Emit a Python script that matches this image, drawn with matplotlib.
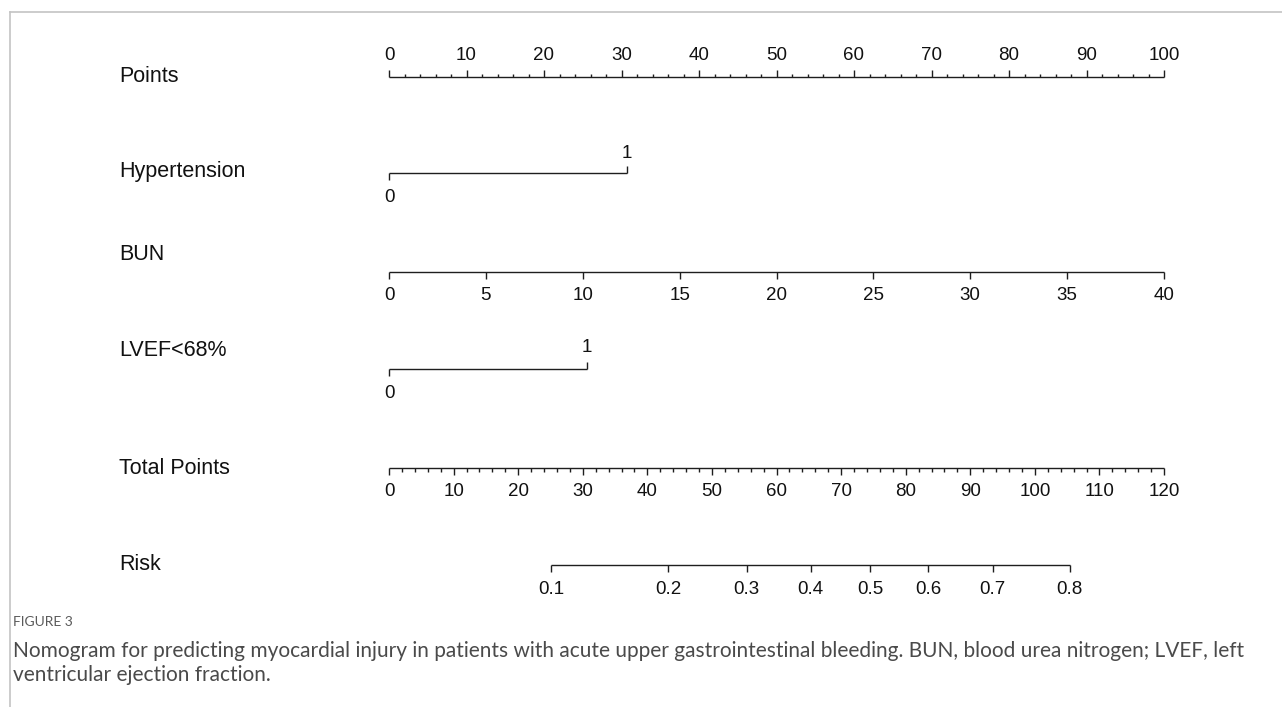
import matplotlib
matplotlib.use("Agg")
import matplotlib.pyplot as plt
from matplotlib.lines import Line2D

# ---------------- data ----------------
row_labels = ["Points", "Hypertension", "BUN", "LVEF<68%", "Total Points", "Risk"]

points_ticks = list(range(0, 101, 10))
points_minor = [v for v in range(0, 101, 2) if v % 10 != 0]

hyper_levels = ["0", "1"]
hyper_points = [0.0, 30.7]

bun_values = [0, 5, 10, 15, 20, 25, 30, 35, 40]
bun_max_points = 100.0          # BUN = 40 -> 100 points
bun_max_value = 40.0

lvef_levels = ["0", "1"]
lvef_points = [0.0, 25.5]

total_ticks = list(range(0, 121, 10))
total_minor = [v for v in range(0, 121, 2) if v % 10 != 0]
total_max = 120.0

risk_labels = ["0.1", "0.2", "0.3", "0.4", "0.5", "0.6", "0.7", "0.8"]
risk_total_points = [25.1, 43.2, 55.4, 65.3, 74.5, 83.5, 93.5, 105.4]

caption_head = "FIGURE 3"
caption_lines = [
    "Nomogram for predicting myocardial injury in patients with acute upper gastrointestinal bleeding. BUN, blood urea nitrogen; LVEF, left",
    "ventricular ejection fraction.",
]

# ---------------- figure ----------------
W, H, DPI = 1282, 707, 100
fig = plt.figure(figsize=(W / DPI, H / DPI), dpi=DPI)
fig.patch.set_facecolor("white")

# one axes covering the whole figure; x in "points" units, y in pixel rows
px_per_point = 7.75
x0_px = 389.0
ax = fig.add_axes([0, 0, 1, 1])
ax.set_xlim(-x0_px / px_per_point, (W - x0_px) / px_per_point)
ax.set_ylim(H, 0)
ax.axis("off")

LC = "#1e1e1e"
LW = 1.0
LAB_FS = 15.5
TICK_FS = 13.5
FONT = "Liberation Sans"
TC = "#111111"

def pts_to_dx(px):
    return px / px_per_point

label_x = -x0_px / px_per_point + pts_to_dx(119)

rows = {
    "Points": 77,
    "Hypertension": 173,
    "BUN": 272,
    "LVEF<68%": 369,
    "Total Points": 468,
    "Risk": 565,
}
label_y = {
    "Points": 77,
    "Hypertension": 172,
    "BUN": 255,
    "LVEF<68%": 351,
    "Total Points": 468,
    "Risk": 565,
}

for name in row_labels:
    ax.text(label_x, label_y[name], name, fontsize=LAB_FS, family=FONT,
            color=TC, ha="left", va="center")

def hline(x1, x2, y):
    ax.plot([x1, x2], [y, y], color=LC, lw=LW, solid_capstyle="butt")

def tick(x, y, length):
    ax.plot([x, x], [y, y + length], color=LC, lw=LW, solid_capstyle="butt")

def label(x, y, s):
    ax.text(x, y, s, fontsize=TICK_FS, family=FONT, color=TC,
            ha="center", va="center")

# Points axis (ticks up, labels above)
y = rows["Points"]
hline(points_ticks[0], points_ticks[-1], y)
for v in points_ticks:
    tick(v, y, -7)
    label(v, y - 22, str(v))
for v in points_minor:
    tick(v, y, -3.5)

# Hypertension
y = rows["Hypertension"]
hline(hyper_points[0], hyper_points[1], y)
tick(hyper_points[0], y, 7)
tick(hyper_points[1], y, -7)
label(hyper_points[0], y + 24, hyper_levels[0])
label(hyper_points[1], y - 20, hyper_levels[1])

# BUN
y = rows["BUN"]
bun_pts = [b / bun_max_value * bun_max_points for b in bun_values]
hline(bun_pts[0], bun_pts[-1], y)
for b, p in zip(bun_values, bun_pts):
    tick(p, y, 7)
    label(p, y + 24, str(b))

# LVEF<68%
y = rows["LVEF<68%"]
hline(lvef_points[0], lvef_points[1], y)
tick(lvef_points[0], y, 7)
tick(lvef_points[1], y, -7)
label(lvef_points[0], y + 24, lvef_levels[0])
label(lvef_points[1], y - 21, lvef_levels[1])

# Total points (0..120 mapped onto 0..100 points length)
y = rows["Total Points"]
scale = 100.0 / total_max
hline(0, total_max * scale, y)
for v in total_ticks:
    tick(v * scale, y, 7)
    label(v * scale, y + 23, str(v))
for v in total_minor:
    tick(v * scale, y, 3.5)

# Risk
y = rows["Risk"]
rp = [t * scale for t in risk_total_points]
hline(rp[0], rp[-1], y)
for lab, p in zip(risk_labels, rp):
    tick(p, y, 7)
    label(p, y + 24, lab)

# frame lines (top and left), light grey
fig.add_artist(Line2D([10 / W, 1], [1 - 12 / H, 1 - 12 / H], transform=fig.transFigure,
                      color="#c4c4c4", lw=1.2))
fig.add_artist(Line2D([10 / W, 10 / W], [0, 1 - 12 / H], transform=fig.transFigure,
                      color="#c4c4c4", lw=1.2))

# caption
CAP_FONT = "Lato"
fig.text(13 / W, 1 - 622 / H, caption_head, fontsize=10, family=CAP_FONT,
         color="#5a5a5a", ha="left", va="center")
fig.text(13 / W, 1 - 651 / H, caption_lines[0], fontsize=15, family=CAP_FONT,
         color="#4a4a4a", ha="left", va="center")
fig.text(13 / W, 1 - 675 / H, caption_lines[1], fontsize=15, family=CAP_FONT,
         color="#4a4a4a", ha="left", va="center")

fig.savefig("out.png", dpi=DPI, facecolor="white")
